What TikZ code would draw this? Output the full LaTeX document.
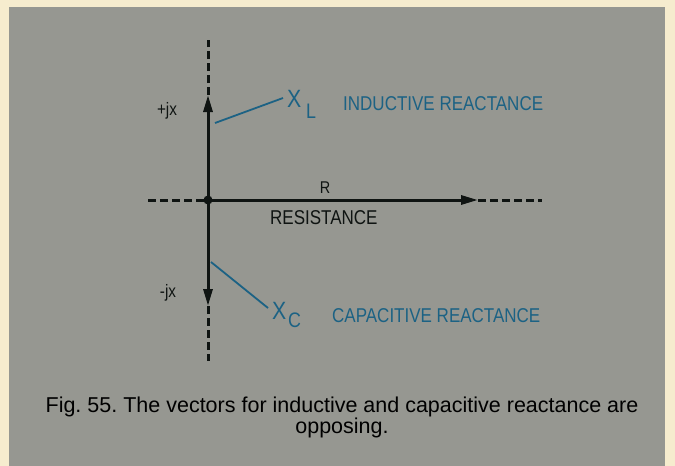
\documentclass[tikz,border=0pt]{standalone}
\usepackage{fontspec}
\setmainfont{Liberation Sans}
\newfontfamily\cond[FakeStretch=0.85]{Liberation Sans}
\usetikzlibrary{arrows.meta}
\definecolor{paper}{RGB}{150,151,145}
\definecolor{cream}{RGB}{246,236,206}
\definecolor{inkblue}{RGB}{28,98,132}
\definecolor{ink}{RGB}{15,20,18}
\begin{document}
\frenchspacing
\begin{tikzpicture}[x=1pt,y=-1pt,
  axis/.style={draw=ink,line width=3pt},
  dashline/.style={draw=ink,line width=3pt,dash pattern=on 8pt off 4pt},
  leader/.style={draw=inkblue,line width=1.8pt},
  tip/.style={-{Triangle[length=17pt,width=9pt]}},
  blab/.style={text=inkblue,font=\cond\fontsize{20}{20}\selectfont,inner sep=0pt,anchor=base west},
  klab/.style={text=ink,font=\cond\fontsize{18}{18}\selectfont,inner sep=0pt,anchor=base},
  sym/.style={text=inkblue,font=\cond\fontsize{25}{25}\selectfont,inner sep=0pt,anchor=base west},
  sub/.style={text=inkblue,font=\cond\fontsize{21}{21}\selectfont,inner sep=0pt,anchor=base west},
  capt/.style={text=black,font=\fontsize{21.5}{21.5}\selectfont,inner sep=0pt,anchor=base}]
\useasboundingbox (0,0) rectangle (675,466);
\fill[cream] (0,0) rectangle (675,466);
\fill[paper] (9,7) rectangle (665,466);
% axes
\coordinate (O) at (208,200);
\coordinate (top) at (208,40);
\coordinate (bot) at (208,361);
\coordinate (left) at (148,200);
\coordinate (right) at (542,200);
\coordinate (up) at (208,95);
\coordinate (down) at (208,306);
\coordinate (rt) at (478,200);
\draw[dashline] (up) -- (top);
\draw[dashline] (down) -- (bot);
\draw[dashline] (left) -- (O);
\draw[dashline] (rt) -- (right);
\draw[axis,tip] (O) -- (up);
\draw[axis,tip] (O) -- (down);
\draw[axis,tip] (O) -- (rt);
\fill[ink] (O) circle (4.5);
% labels
\node[klab] (pjx) at (167,115) {+jx};
\node[klab] (mjx) at (168,297) {-jx};
\node[klab,font=\cond\fontsize{17}{17}\selectfont] (R) at (325,193) {R};
\node[klab,font=\cond\fontsize{20}{20}\selectfont,anchor=base west] (res) at (270,224) {RESISTANCE};
\node[sym] (xl) at (287,107) {X};
\node[sub] (xlsub) at (306,118) {L};
\node[blab] (ind) at (343,110) {INDUCTIVE REACTANCE};
\node[sym] (xc) at (272,319) {X};
\node[sub] (xcsub) at (288,327) {C};
\node[blab] (cap) at (332,322) {CAPACITIVE REACTANCE};
% leaders
\coordinate (l1a) at (215,123);
\coordinate (l1b) at (283,98);
\coordinate (l2a) at (211,262);
\coordinate (l2b) at (268,308);
\draw[leader] (l1a) -- (l1b);
\draw[leader] (l2a) -- (l2b);
% caption
\node[capt] (c1) at (342,412) {Fig. 55. The vectors for inductive and capacitive reactance are};
\node[capt] (c2) at (342,433) {opposing.};
\end{tikzpicture}
\end{document}
